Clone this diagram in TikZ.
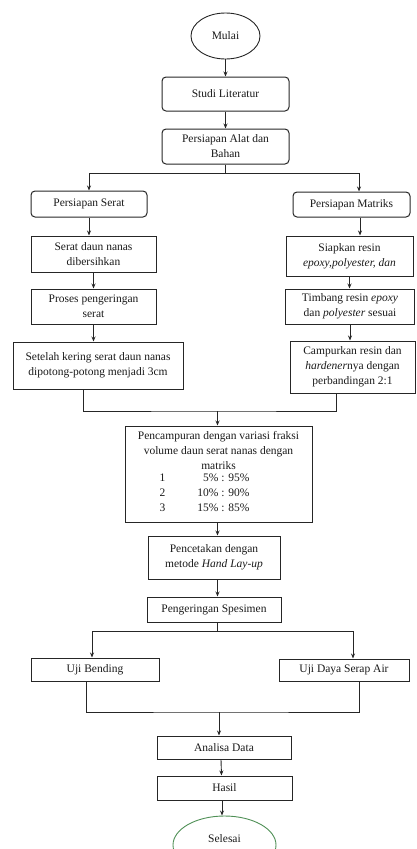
\documentclass[tikz,border=0pt]{standalone}
\usepackage{fontspec}
\setmainfont{Liberation Serif}
\usetikzlibrary{
  positioning,
  arrows.meta,
  shapes.geometric,
  calc,
}
\definecolor{cLine}{HTML}{262626}
\definecolor{cText}{HTML}{1A1A1A}
\definecolor{cEnd} {HTML}{4E8F55}

\begin{document}
\begin{tikzpicture}[
  x=1pt, y=-1pt,
  font=\fontsize{11.5}{15}\selectfont,
  >={Stealth[length=5pt, width=4pt]},
  every node/.style={align=center, text=cText, inner sep=2pt},
  %
  termbox/.style={
    draw=cLine, ellipse, line width=0.9pt, inner sep=0pt,
  },
  rndbox/.style 2 args={
    draw=cLine, line width=1pt, rounded corners=4pt,
    minimum width=#1, minimum height=#2,
  },
  sqbox/.style 2 args={
    draw=cLine, line width=1pt,
    minimum width=#1, minimum height=#2,
  },
  arr/.style={->, line width=0.9pt, draw=cLine},
  link/.style={line width=0.9pt, draw=cLine},
]
\useasboundingbox (0,0) rectangle (416,849);
\clip (0,0) rectangle (416,849);

% ────────────── START + PREPARATION ────────────────────────────────────────
\node[termbox, minimum width=69pt, minimum height=46pt] (mulai) at (225.5,36) {Mulai};
\node[rndbox={127pt}{34pt}] (studi) at (225.5,94)    {Studi Literatur};
\node[rndbox={127pt}{35pt}] (alat)  at (225.5,146.5) {Persiapan Alat dan\\Bahan};

% ────────────── FIBRE COLUMN (left) ────────────────────────────────────────
\node[rndbox={116pt}{26pt}] (p_serat) at (89,204)    {Persiapan Serat};
\node[sqbox={125pt}{36pt}]  (bersih)  at (93.5,254)  {Serat daun nanas\\dibersihkan};
\node[sqbox={125pt}{35pt}]  (kering)  at (93.5,306.5) {Proses pengeringan\\serat};
\node[sqbox={170pt}{47pt}]  (potong)  at (98,365.5)  {Setelah kering serat daun nanas\\dipotong-potong menjadi 3cm};

% ────────────── MATRIX COLUMN (right) ──────────────────────────────────────
\node[rndbox={117pt}{25pt}] (p_matriks) at (351.5,204.5) {Persiapan Matriks};
\node[sqbox={127pt}{40pt}]  (siapkan)   at (349.5,256)   {Siapkan resin\\\textit{epoxy,polyester, dan}};
\node[sqbox={129pt}{35pt}]  (timbang)   at (350,306.5)   {Timbang resin \textit{epoxy}\\dan \textit{polyester} sesuai};
\node[sqbox={125pt}{52pt}]  (campur)    at (352.5,367)   {Campurkan resin dan\\\textit{hardener}nya dengan\\perbandingan 2:1};

% ────────────── MIXING + MOULDING ──────────────────────────────────────────
\node[sqbox={187pt}{96pt}] (pencampuran) at (218.5,474)
  {Pencampuran dengan variasi fraksi\\volume daun serat nanas dengan\\matriks\\
   \hspace*{-28pt}\begin{tabular}{@{}l@{\hspace{32pt}}r@{}}
     1 & 5\% : 95\%\\
     2 & 10\% : 90\%\\
     3 & 15\% : 85\%
   \end{tabular}};
\node[sqbox={132pt}{43pt}] (cetak)    at (214,557.5) {Pencetakan dengan\\metode \textit{Hand Lay-up}};
\node[sqbox={134pt}{25pt}] (spesimen) at (214,609.5) {Pengeringan Spesimen};

% ────────────── TESTS ──────────────────────────────────────────────────────
\node[sqbox={128pt}{23pt}] (bending) at (95,669.5) {Uji Bending};
\node[sqbox={130pt}{22pt}] (serap)   at (344,670)  {Uji Daya Serap Air};

% ────────────── ANALYSIS + END ─────────────────────────────────────────────
\node[sqbox={134pt}{23pt}] (analisa) at (224,747.5) {Analisa Data};
\node[sqbox={135pt}{24pt}] (hasil)   at (224.5,788) {Hasil};
\node[termbox, draw=cEnd, minimum width=103pt, minimum height=58pt]
     (selesai) at (224.5,845) {\raisebox{13pt}{Selesai}};

% ────────────── ARROWS — top ───────────────────────────────────────────────
\coordinate (cabang1) at (225.5,173);
\draw[arr] (mulai.south) -- (studi.north);
\draw[arr] (studi.south) -- (alat.north);
\draw[link] (alat.south) -- (cabang1);
\draw[arr] (cabang1) -| (p_serat.north);
\draw[arr] (cabang1) -| ([xshift=7.5pt]p_matriks.north);

% ────────────── ARROWS — both columns ──────────────────────────────────────
\draw[arr] (p_serat.south) -- (p_serat.south |- bersih.north);
\draw[arr] (bersih.south) -- (kering.north);
\draw[arr] (kering.south) -- (kering.south |- potong.north);
\draw[arr] ([xshift=8.5pt]p_matriks.south) -- ([xshift=8.5pt]p_matriks.south |- siapkan.north);
\draw[arr] (siapkan.south) -- (siapkan.south |- timbang.north);
\draw[arr] (timbang.south) -- (timbang.south |- campur.north);

% columns join into the mixing step
\coordinate (gabung1) at (217.5,411);
\draw[link] ([xshift=-15pt]potong.south) |- (gabung1) -| ([xshift=-16.5pt]campur.south);
\draw[arr] (gabung1) -- (gabung1 |- pencampuran.north);
\draw[arr] (gabung1 |- pencampuran.south) -- (gabung1 |- cetak.north);
\draw[arr] (gabung1 |- cetak.south) -- (gabung1 |- spesimen.north);

% ────────────── ARROWS — tests + end ───────────────────────────────────────
\coordinate (cabang2) at (217.5,631);
\draw[link] (cabang2 |- spesimen.south) -- (cabang2);
\draw[arr] (cabang2) -| ([xshift=-3pt]bending.north);
\draw[arr] (cabang2) -| ([xshift=9pt]serap.north);
\coordinate (gabung2) at (219,712);
\draw[link] ([xshift=-9pt]bending.south) |- (gabung2) -| ([xshift=15pt]serap.south);
\draw[arr] (gabung2) -- (gabung2 |- analisa.north);
\draw[arr] ([xshift=-3pt]analisa.south) -- ([xshift=-3pt]hasil.north);
\draw[arr] ([xshift=-2.5pt]hasil.south) -- ([xshift=-2.5pt]hasil.south |- selesai.north);

\end{tikzpicture}
\end{document}
